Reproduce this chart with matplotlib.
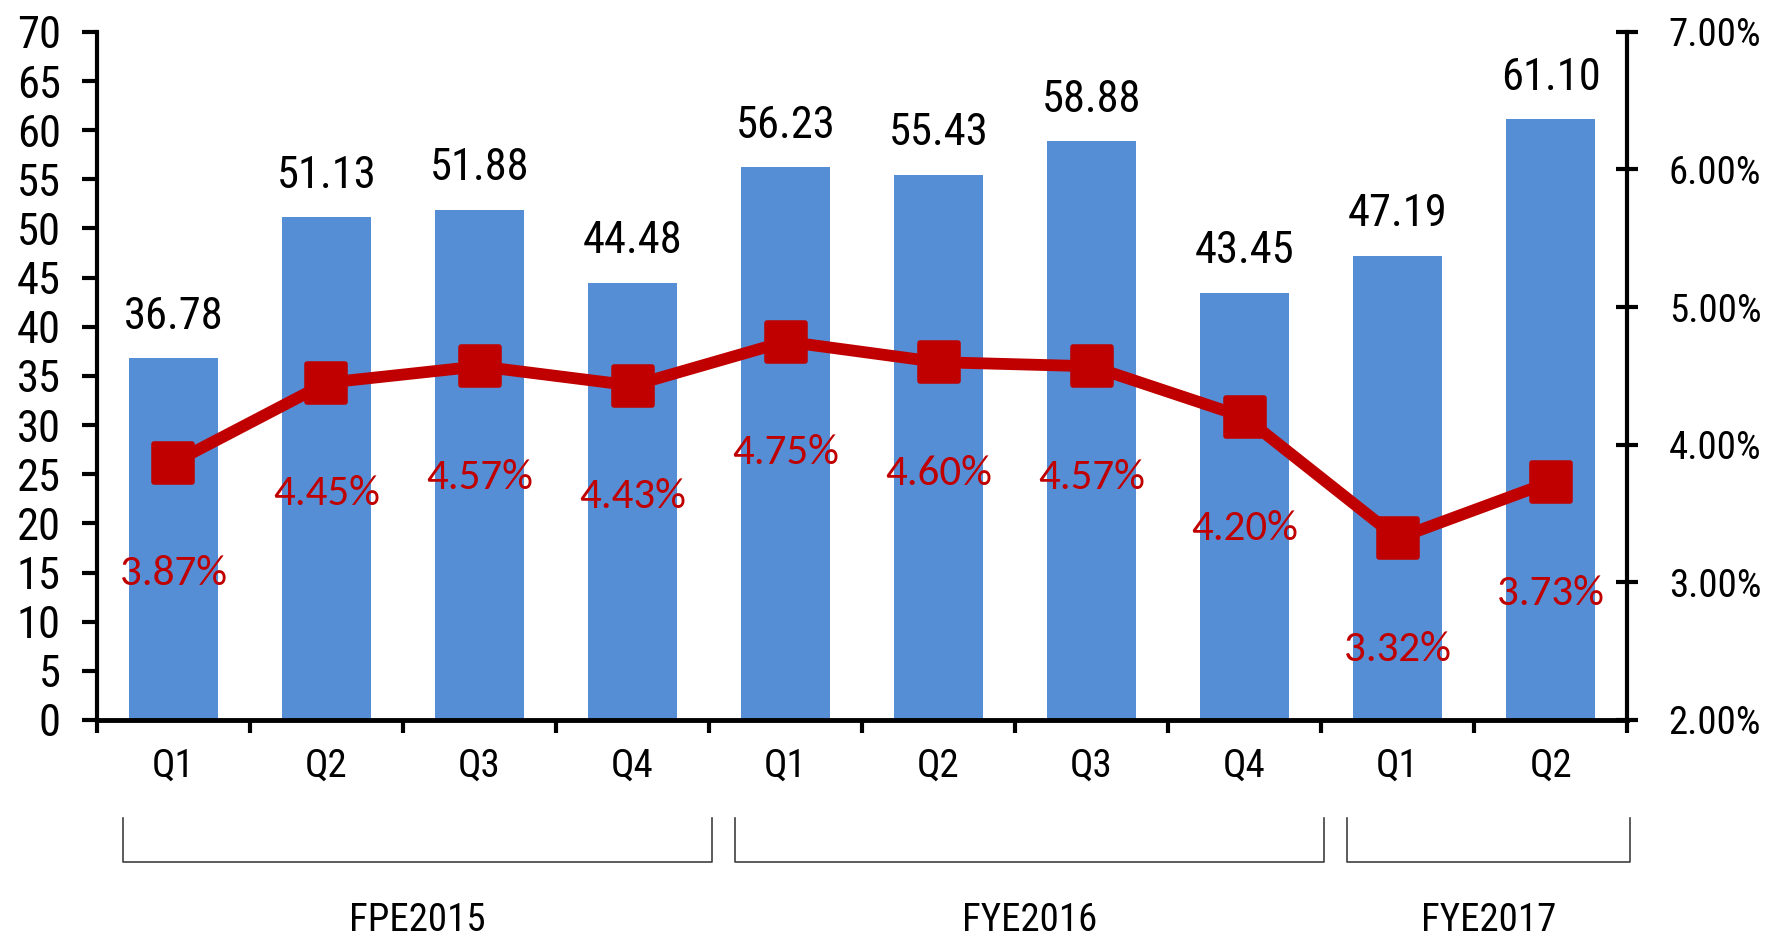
import numpy as np
import matplotlib
matplotlib.use("Agg")
import matplotlib.pyplot as plt
from matplotlib.markers import MarkerStyle
from matplotlib.transforms import blended_transform_factory

# data
quarters = ["Q1", "Q2", "Q3", "Q4", "Q1", "Q2", "Q3", "Q4", "Q1", "Q2"]
amounts = [36.78, 51.13, 51.88, 44.48, 56.23, 55.43, 58.88, 43.45, 47.19, 61.10]
rates = [3.87, 4.45, 4.57, 4.43, 4.75, 4.60, 4.57, 4.20, 3.32, 3.73]
groups = ["FPE2015", "FYE2016", "FYE2017"]
group_sizes = [4, 4, 2]

bar_color = "#558ED5"
line_color = "#C00000"
narrow = ["Liberation Sans Narrow", "Arimo Narrow", "Roboto Condensed",
          "Archivo Narrow", "PT Sans Narrow", "Roboto", "DejaVu Sans"]
pct_font = ["Carlito", "Lato", "DejaVu Sans"]

plt.rcParams["font.family"] = narrow

fig = plt.figure(figsize=(17.73, 9.43), dpi=100)
ax = fig.add_axes([0.0547, 0.2365, 0.8630, 0.7297])
ax2 = ax.twinx()

x = np.arange(len(quarters))
ax.bar(x, amounts, width=0.58, color=bar_color, zorder=2)
ax.set_xlim(-0.5, len(quarters) - 0.5)
ax.set_ylim(0, 70)
ax.set_yticks(np.arange(0, 71, 5))
ax.tick_params(axis="y", direction="out", length=11, width=3, pad=15, labelsize=32)

ax.set_xticks(x)
ax.set_xticklabels(quarters)
ax.set_xticks(np.arange(-0.5, len(quarters), 1), minor=True)
ax.tick_params(axis="x", which="major", length=0, pad=20, labelsize=28)
ax.tick_params(axis="x", which="minor", direction="out", length=9, width=3)

for side in ["top", "right"]:
    ax.spines[side].set_visible(False)
ax.spines["left"].set_linewidth(3)
ax.spines["bottom"].set_linewidth(3.5)

for xi, v in zip(x, amounts):
    ax.annotate(f"{v:.2f}", (xi, v), xytext=(0, 30), textcoords="offset points",
                ha="center", va="center", fontsize=32)

# rate line on the right axis
mk = MarkerStyle("s", joinstyle="round")
rate_frac = [r / 100 for r in rates]
ax2.plot(x, rate_frac, color=line_color, lw=8.5, marker=mk, markersize=28,
         mec=line_color, mew=4, zorder=3)
ax2.set_ylim(0.02, 0.07)
ax2.set_yticks(np.arange(0.02, 0.0701, 0.01))
ax2.set_yticklabels([f"{t * 100:.2f}%" for t in np.arange(0.02, 0.0701, 0.01)])
ax2.tick_params(axis="y", direction="inout", length=16, width=3, pad=22, labelsize=28)
for side in ["top", "left", "bottom"]:
    ax2.spines[side].set_visible(False)
ax2.spines["right"].set_linewidth(3)

for xi, r, rf in zip(x, rates, rate_frac):
    ax2.annotate(f"{r:.2f}%", (xi, rf), xytext=(0, -80), textcoords="offset points",
                 ha="center", va="center", fontsize=31, color=line_color,
                 family=pct_font)

# group brackets under the quarter labels
trans = blended_transform_factory(ax.transData, fig.transFigure)
start = 0
for name, n in zip(groups, group_sizes):
    lo = start - 0.5 + 0.17
    hi = start + n - 0.5 + 0.02
    ax.plot([lo, lo, hi, hi], [0.1326, 0.0859, 0.0859, 0.1326], transform=trans,
            color="#404040", lw=1.2, clip_on=False)
    ax.text((lo + hi) / 2, 0.004, name, transform=trans, ha="center", va="bottom",
            fontsize=28)
    start += n

fig.savefig("out.png", dpi=100)
